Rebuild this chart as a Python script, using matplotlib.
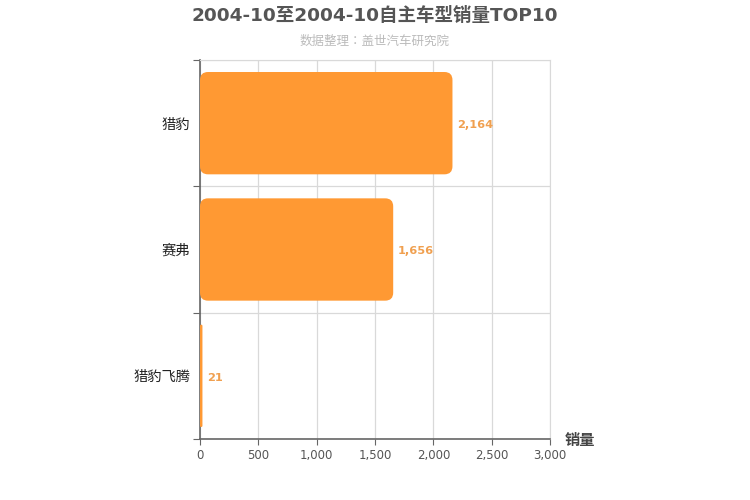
import matplotlib
matplotlib.use("Agg")
import matplotlib.pyplot as plt
from matplotlib.patches import FancyBboxPatch
from matplotlib.transforms import offset_copy

plt.rcParams['font.family'] = ['DejaVu Sans', 'Noto Sans CJK SC']

categories = ["猎豹", "赛弗", "猎豹飞腾"]
values = [2164, 1656, 21]
xticks = [0, 500, 1000, 1500, 2000, 2500, 3000]
title = "2004-10至2004-10自主车型销量TOP10"
subtitle = "数据整理：盖世汽车研究院"

bar_color = "#FF9933"
label_color = "#F0A050"

fig = plt.figure(figsize=(7.5, 5), dpi=100)
ax = fig.add_axes([200/750, 61/500, 350/750, 379/500])

n = len(categories)
ypos = [n - 1 - i for i in range(n)]
ax.set_xlim(0, 3000)
ax.set_ylim(-0.5, n - 0.5)

bars = ax.barh(ypos, values, height=0.81, color=bar_color, alpha=0)
# rounded bars
xpp = 3000 / 350.0
ypp = n / 379.0
r_px = 8
lbl_tr = offset_copy(ax.transData, fig=fig, x=0, y=-2, units='dots')
for rect, v in zip(bars, values):
    x0, y0 = rect.get_x(), rect.get_y()
    w, h = rect.get_width(), rect.get_height()
    rs = min(r_px, w / xpp / 2) * xpp
    p = FancyBboxPatch((x0, y0), w, h,
                       boxstyle=f"round,pad=0,rounding_size={rs}",
                       mutation_aspect=ypp / xpp,
                       facecolor=bar_color, edgecolor="none", zorder=3)
    ax.add_patch(p)
    ax.text(v + 40, rect.get_y() + h / 2, f"{v:,}", va="center", ha="left",
            fontsize=8.2, fontweight="bold", color=label_color, zorder=4,
            transform=lbl_tr)

ax.set_xticks(xticks)
ax.set_xticklabels([f"{t:,}" for t in xticks], fontsize=8.5, color="#555555")
ax.tick_params(axis='x', length=4, color="#666666", pad=3)

# category boundaries as major ticks, labels at centers
ax.set_yticks([i - 0.5 for i in range(n + 1)])
ax.set_yticklabels([])
ax.set_yticks(ypos, minor=True)
ax.set_yticklabels(categories, minor=True, fontsize=10.3, color="#222222",
                   fontweight="medium")
ax.tick_params(axis='y', which='major', length=5, color="#666666")
ax.tick_params(axis='y', which='minor', length=0, pad=7)

ax.grid(True, which='major', axis='both', color="#d9d9d9", linewidth=0.9, zorder=0)
ax.set_axisbelow(True)
for s in ["top", "right"]:
    ax.spines[s].set_color("#d9d9d9")
for s in ["left", "bottom"]:
    ax.spines[s].set_color("#666666")
    ax.spines[s].set_linewidth(1.2)

fig.text(0.5, 0.968, title, ha="center", va="center", fontsize=13.3,
         fontweight="bold", color="#555555")
fig.text(0.5, 0.918, subtitle, ha="center", va="center", fontsize=9,
         fontweight="medium", color="#bbbbbb",
         family=['Noto Sans CJK TC', 'DejaVu Sans'])
fig.text(580/750, 1 - 440/500, "销量", ha="center", va="center", fontsize=11,
         fontweight="bold", color="#444444")

fig.savefig("out.png", dpi=100)
